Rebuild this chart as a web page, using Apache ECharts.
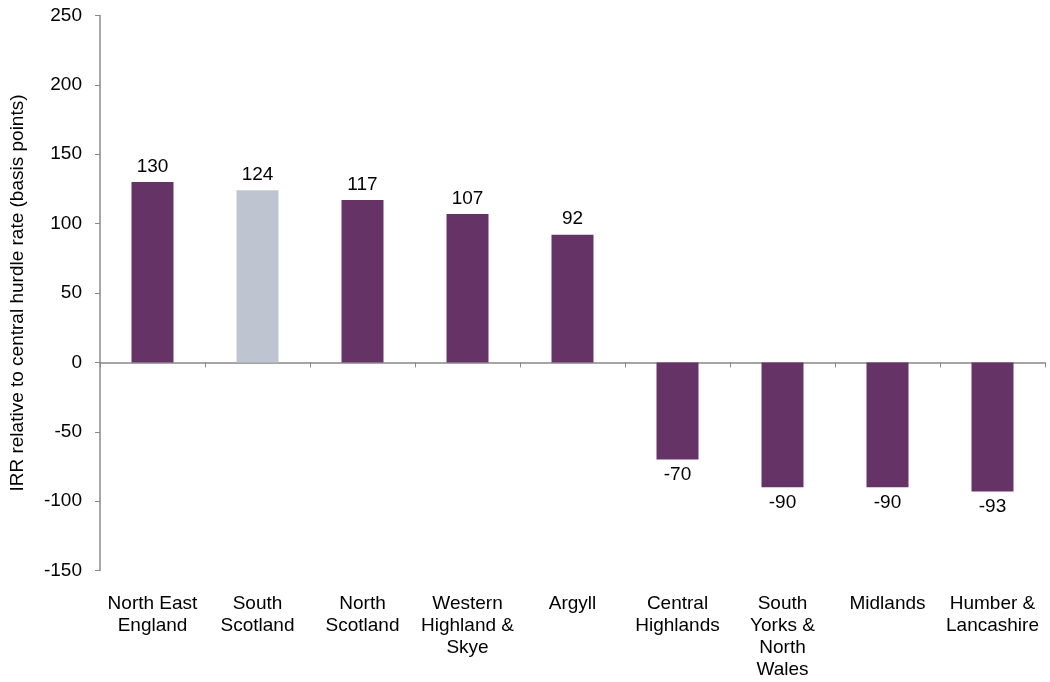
<!DOCTYPE html>
<html>
<head>
<meta charset="utf-8">
<script src="https://cdn.jsdelivr.net/npm/echarts@6/dist/echarts.min.js"></script>
<style>
  html, body { margin: 0; padding: 0; background: #fff; }
  #chart { width: 1050px; height: 682px; }
</style>
</head>
<body>
<div id="chart"></div>
<script>
// Regions and their IRR relative to the central hurdle rate (basis points)
const regions = [
  'North East\nEngland', 'South\nScotland', 'North\nScotland',
  'Western\nHighland &\nSkye', 'Argyll', 'Central\nHighlands',
  'South\nYorks &\nNorth\nWales', 'Midlands', 'Humber &\nLancashire'
];
const irrValues = [130, 124, 117, 107, 92, -70, -90, -90, -93];
const highlightRegion = 'South\nScotland';

const purple = '#663366';
const grey = '#bec4d0';
const font = 'Liberation Sans, Arial, sans-serif';

const chart = echarts.init(document.getElementById('chart'), null, { renderer: 'canvas' });

chart.setOption({
  animation: false,
  grid: { left: 99, right: 5, top: 15.5, bottom: 111.5, containLabel: false },
  xAxis: [
    {
      // labels along the bottom of the plot
      type: 'category',
      data: regions,
      position: 'bottom',
      axisLine: { show: false, onZero: false },
      axisTick: { show: false },
      axisLabel: {
        interval: 0, margin: 22, color: '#000',
        fontFamily: font, fontSize: 19, lineHeight: 22
      }
    },
    {
      // baseline at zero with boundary ticks
      type: 'category',
      data: regions,
      position: 'bottom',
      axisLine: { show: true, onZero: true, lineStyle: { color: '#888', width: 1.5 } },
      axisTick: { show: true, length: 5, alignWithLabel: false, lineStyle: { color: '#888' } },
      axisLabel: { show: false }
    }
  ],
  yAxis: {
    type: 'value',
    min: -150, max: 250, interval: 50,
    name: 'IRR relative to central hurdle rate (basis points)',
    nameLocation: 'middle',
    nameRotate: 90,
    nameGap: 73,
    nameTextStyle: { color: '#000', fontFamily: font, fontSize: 19 },
    axisLine: { show: true, lineStyle: { color: '#888', width: 1.5 } },
    axisTick: { show: true, length: 5, inside: false, lineStyle: { color: '#888' } },
    splitLine: { show: false },
    axisLabel: { color: '#000', fontFamily: font, fontSize: 19, margin: 18 }
  },
  series: [{
    type: 'bar',
    xAxisIndex: 0,
    barWidth: 42,
    data: irrValues.map((v, i) => ({
      value: v,
      itemStyle: { color: regions[i] === highlightRegion ? grey : purple },
      label: { position: v >= 0 ? 'top' : 'bottom' }
    })),
    label: {
      show: true, distance: 6, color: '#000',
      fontFamily: font, fontSize: 19
    }
  }]
});
</script>
</body>
</html>
